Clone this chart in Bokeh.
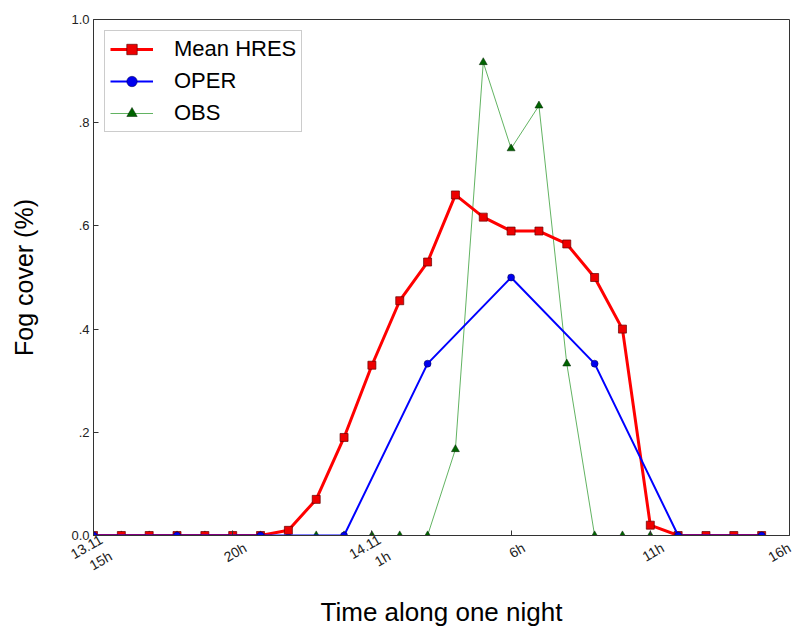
import math
from bokeh.plotting import figure
from bokeh.models import (FixedTicker, Legend, LegendItem, Range1d, LinearAxis,
                          CustomLabelingPolicy)
from bokeh.embed import file_html
from bokeh.resources import INLINE

# ---- data (hours after 13.11 15h) ----
hres_x = list(range(0, 25))
hres_y = [0, 0, 0, 0, 0, 0, 0, 0.01, 0.07, 0.19, 0.33, 0.455, 0.53, 0.66, 0.617,
          0.59, 0.59, 0.565, 0.50, 0.40, 0.02, 0, 0, 0, 0]

oper_x = [0, 3, 6, 9, 12, 15, 18, 21, 24]
oper_y = [0, 0, 0, 0, 0.333, 0.50, 0.333, 0, 0]

obs_x = list(range(0, 21))
obs_y = [0, 0, 0, 0, 0, 0, 0, 0, 0, 0, 0, 0, 0, 0.167, 0.917, 0.75, 0.833, 0.333,
         0, 0, 0]

x_ticks = [0, 5, 10, 15, 20, 25]
x_tick_labels = ["13.11\n15h", "20h", "14.11\n1h", "6h", "11h", "16h"]
y_ticks = [0.0, 0.2, 0.4, 0.6, 0.8, 1.0]
y_tick_labels = ["0.0", ".2", ".4", ".6", ".8", "1.0"]

FONT = "Liberation Sans"
X0, X1 = 0, 25
LABEL_SHIFT = 0.45   # hours; centres the rotated labels under their ticks

p = figure(width=805, height=629, output_backend="svg", toolbar_location=None,
           x_range=Range1d(X0, X1), y_range=Range1d(0, 1),
           min_border_left=93, min_border_right=16, min_border_top=19,
           min_border_bottom=89)
p.extra_x_ranges = {"lab": Range1d(X0 - LABEL_SHIFT, X1 - LABEL_SHIFT)}
p.grid.visible = False
p.outline_line_color = "#333333"
p.outline_line_width = 1

xa = p.xaxis[0]
ya = p.yaxis[0]
xa.ticker = FixedTicker(ticks=x_ticks)
xa.major_label_policy = CustomLabelingPolicy(code="return [];")
xa.major_label_standoff = 0
ya.ticker = FixedTicker(ticks=y_ticks)
ya.major_label_overrides = dict(zip(y_ticks, y_tick_labels))
for ax in (xa, ya):
    ax.major_tick_in = 5
    ax.major_tick_out = 0
    ax.minor_tick_line_color = None
    ax.axis_line_color = "#333333"
    ax.major_tick_line_color = "#333333"
    ax.major_label_text_font = FONT
    ax.major_label_text_color = "#222222"
    ax.axis_label_text_font = FONT
    ax.axis_label_text_font_style = "normal"
    ax.axis_label_text_color = "black"
ya.major_label_text_font_size = "13px"
ya.axis_label = "Fog cover (%)"
ya.axis_label_text_font_size = "25px"
ya.axis_label_standoff = 30
ya.major_label_standoff = 4

# label positions on the shifted label range (last one kept inside the range)
lab_end = X1 - LABEL_SHIFT - 0.001
lab_ticks = [min(t, lab_end) for t in x_ticks]

lab = LinearAxis(x_range_name="lab", ticker=FixedTicker(ticks=lab_ticks),
                 major_label_overrides=dict(zip(lab_ticks, x_tick_labels)),
                 axis_line_color=None, major_tick_line_color=None,
                 minor_tick_line_color=None, major_tick_in=0, major_tick_out=0,
                 major_label_orientation=math.pi / 6,
                 major_label_text_font=FONT, major_label_text_font_size="14px",
                 major_label_text_color="#222222", major_label_standoff=0,
                 axis_label="Time along one night", axis_label_text_font=FONT,
                 axis_label_text_font_size="26px",
                 axis_label_text_line_height=1.0,
                 axis_label_text_font_style="normal",
                 axis_label_text_color="black", axis_label_standoff=0)
p.add_layout(lab, "below")

# OBS (drawn first)
obs_l = p.line(obs_x, obs_y, line_color="#2e9a2e", line_width=1, line_alpha=0.75)
obs_m = p.scatter(obs_x, obs_y, marker="triangle", size=8, fill_color="#006400",
                  line_color="#002200", line_width=0.5)
# HRES
hres_l = p.line(hres_x, hres_y, line_color="#ff0000", line_width=3)
hres_m = p.scatter(hres_x, hres_y, marker="square", size=8, fill_color="#ee0000",
                   line_color="#660000", line_width=0.7)
# OPER
oper_l = p.line(oper_x, oper_y, line_color="#0000ff", line_width=2)
oper_m = p.scatter(oper_x, oper_y, marker="circle", size=7, fill_color="#0000ee",
                   line_color="#000044", line_width=0.5)

legend = Legend(items=[
    LegendItem(label="Mean HRES", renderers=[hres_l, hres_m]),
    LegendItem(label="OPER", renderers=[oper_l, oper_m]),
    LegendItem(label="OBS", renderers=[obs_l, obs_m]),
], location="top_left")
legend.margin = 11
legend.padding = 5
legend.spacing = 6
legend.glyph_height = 26
legend.glyph_width = 43
legend.label_standoff = 21
legend.label_text_font = FONT
legend.label_text_font_size = "22px"
legend.label_text_color = "black"
legend.border_line_color = "#999999"
legend.border_line_width = 1
legend.background_fill_color = "white"
legend.background_fill_alpha = 1
p.add_layout(legend)

open("out.html", "w").write(file_html(p, INLINE))
